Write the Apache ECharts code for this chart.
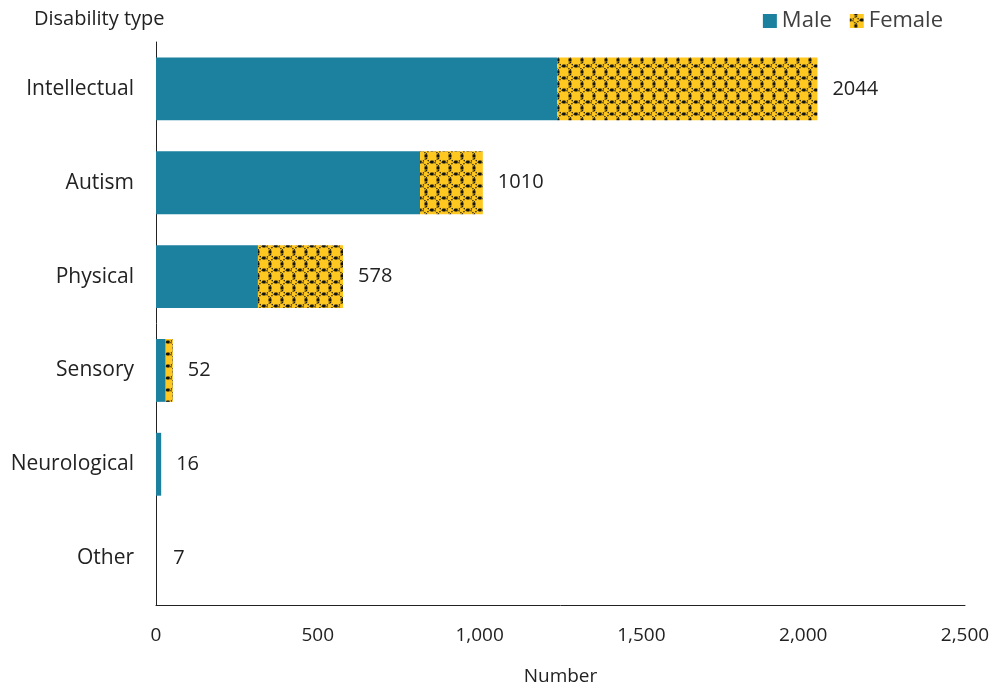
<!DOCTYPE html>
<html><head><meta charset="utf-8">
<script src="https://cdn.jsdelivr.net/npm/echarts@6/dist/echarts.min.js"></script>
<style>html,body{margin:0;padding:0;background:#fff}#c{width:996px;height:691px}</style>
</head><body><div id="c"></div>
<script>
const categories = ['Intellectual','Autism','Physical','Sensory','Neurological','Other'];
const male = [1240, 816, 315, 30, 16, null];
const female = [804, 194, 263, 22, null, null];
const totals = [2044, 1010, 578, 52, 16, 7];
const xTicks = [0, 500, 1000, 1500, 2000, 2500];

function makePattern(){
  const s = 12;
  const c = document.createElement('canvas');
  c.width = s; c.height = s;
  const g = c.getContext('2d');
  g.fillStyle = '#FFC820';
  g.fillRect(0,0,s,s);
  g.strokeStyle = '#1a1a1a';
  g.lineWidth = 1.2;
  g.setLineDash([1.3,1.2]);
  [[0,0],[s,0],[0,s],[s,s]].forEach(([x,y])=>{
    g.beginPath(); g.arc(x,y,s/2,0,Math.PI*2); g.stroke();
  });
  g.setLineDash([]);
  g.fillStyle = '#111';
  [[s/2,0],[0,s/2],[s,s/2],[s/2,s]].forEach(([x,y])=>{ g.fillRect(x-1.5,y-1.5,3,3); });
  return c;
}
const pat = makePattern();
const font = '"Open Sans", sans-serif';
const chart = echarts.init(document.getElementById('c'));
chart.setOption({
  animation:false,
  textStyle:{fontFamily:font},
  grid:{left:156, right:31, top:42, bottom:86, containLabel:false},
  legend:{
    right:48, top:5, itemWidth:14, itemHeight:14, itemGap:18,
    icon:'rect',
    textStyle:{fontSize:22, color:'#404040', fontFamily:font},
    data:['Male','Female']
  },
  graphic:[
    {type:'text', left:34, top:9, style:{text:'Disability type', fontSize:20, fill:'#222', fontFamily:font}},
  ],
  xAxis:{
    type:'value', min:0, max:2500, interval:500,
    name:'Number', nameLocation:'middle', nameGap:62,
    nameTextStyle:{fontSize:19, color:'#222', fontFamily:font},
    axisLine:{show:true, lineStyle:{color:'#222', width:1}},
    axisTick:{show:false}, splitLine:{show:false},
    axisLabel:{fontSize:19, color:'#222', margin:21, fontFamily:font,
      formatter:v=>xTicks.includes(v)?v.toLocaleString('en-US'):''}
  },
  yAxis:{
    type:'category', data:categories, inverse:true,
    axisLine:{show:true, lineStyle:{color:'#222', width:1}},
    axisTick:{show:false},
    axisLabel:{fontSize:21, color:'#222', margin:22, fontFamily:font, padding:[3,0,0,0]}
  },
  series:[
    {name:'Male', type:'bar', stack:'s', data:male, barCategoryGap:'33%',
      itemStyle:{color:'#1C819F'}},
    {name:'Female', type:'bar', stack:'s', data:female,
      itemStyle:{color:{image:pat, repeat:'repeat'}}},
    {name:'Total', type:'bar', data:totals, barGap:'-100%', silent:true, z:1,
      itemStyle:{color:'rgba(0,0,0,0)'},
      label:{show:true, position:'right', distance:15, fontSize:20, color:'#222', fontFamily:font, padding:[3,0,0,0]}}
  ]
});
</script></body></html>
